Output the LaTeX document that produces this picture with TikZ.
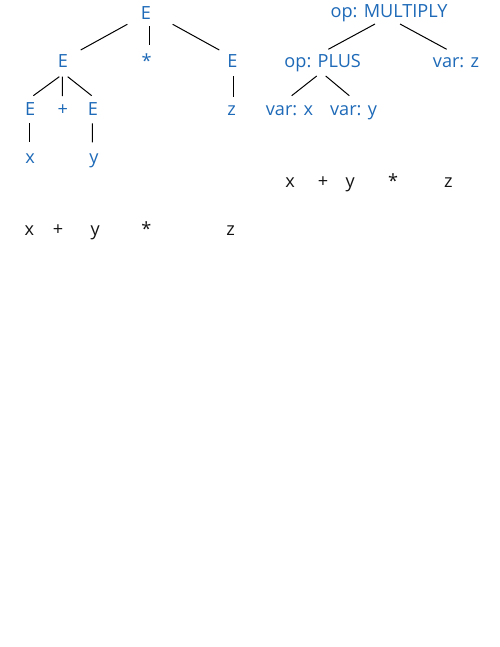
\documentclass[tikz,border=0pt]{standalone}
\usepackage{fontspec}
\setmainfont{Open Sans}
\usetikzlibrary{calc}
\definecolor{tblue}{RGB}{30,106,184}
\definecolor{tdark}{RGB}{20,20,20}
\begin{document}
\begin{tikzpicture}[x=0.75pt,y=-0.75pt,
  lbl/.style={anchor=base,inner sep=0pt,text=tblue,font=\fontsize{13.6}{16}\selectfont},
  tok/.style={lbl,text=tdark},
  conn/.style={line width=0.75pt,draw=black}]
\useasboundingbox[fill=white] (0,0) rectangle (500,647);
% left parse tree
\node[lbl] (Lroot) at (146,19.5) {E};
\node[lbl] (lE) at (63,67) {E};
\node[lbl] (star) at (146.7,67) {*};
\node[lbl] (rE) at (232.5,67) {E};
\node[lbl] (E1) at (30.2,115) {E};
\node[lbl] (plus) at (62.8,115) {+};
\node[lbl] (E2) at (92.8,115) {E};
\node[lbl] (z1) at (231.7,115) {z};
\node[lbl] (x1) at (30,163) {x};
\node[lbl] (y1) at (94,163) {y};
% left tokens
\node[tok] (tx) at (29.5,235) {x};
\node[tok] (tp) at (58,235) {+};
\node[tok] (ty) at (95.3,235) {y};
\node[tok] (ts) at (146.3,235) {*};
\node[tok] (tz) at (230.5,235) {z};
% right AST
\node[lbl] (mult) at (389,17.5) {op: MULTIPLY};
\node[lbl] (plusop) at (322.7,67) {op: PLUS};
\node[lbl] (varz) at (456,67) {var: z};
\node[lbl] (varx) at (289.5,115) {var: x};
\node[lbl] (vary) at (353.5,115) {var: y};
% right tokens
\node[tok] (rx) at (290.2,187) {x};
\node[tok] (rp) at (323,187) {+};
\node[tok] (ry) at (350.3,187) {y};
\node[tok] (rs) at (393,187) {*};
\node[tok] (rz) at (448.3,187) {z};
% left connectors
\draw[conn] ($(Lroot.base)+(-18.7,4.8)$) -- ($(lE.base)+(17.7,-17)$);
\draw[conn] ($(Lroot.base)+(3.3,6.5)$) -- ($(star.base)+(2.6,-22)$);
\draw[conn] ($(Lroot.base)+(26.7,4.8)$) -- ($(rE.base)+(-13.2,-17)$);
\draw[conn] ($(lE.base)+(-3.7,9.7)$) -- ($(E1.base)+(3.1,-19.3)$);
\draw[conn] ($(lE.base)+(-0.7,9.7)$) -- ($(plus.base)+(-0.5,-19)$);
\draw[conn] ($(lE.base)+(4.7,9.7)$) -- ($(E2.base)+(-1.1,-19.3)$);
\draw[conn] ($(E1.base)+(-0.9,8.3)$) -- ($(x1.base)+(-0.7,-20.7)$);
\draw[conn] ($(E2.base)+(-0.5,8.3)$) -- ($(y1.base)+(-1.7,-20.7)$);
\draw[conn] ($(rE.base)+(0.8,9)$) -- ($(z1.base)+(1.6,-18)$);
% right connectors
\draw[conn] ($(mult.base)+(-14,6.5)$) -- ($(plusop.base)+(5.6,-17.7)$);
\draw[conn] ($(mult.base)+(11,6.5)$) -- ($(varz.base)+(-9.3,-17.7)$);
\draw[conn] ($(plusop.base)+(-6,9)$) -- ($(varx.base)+(2.2,-19.3)$);
\draw[conn] ($(plusop.base)+(3,9)$) -- ($(vary.base)+(-4.2,-19.3)$);
\end{tikzpicture}
\end{document}
